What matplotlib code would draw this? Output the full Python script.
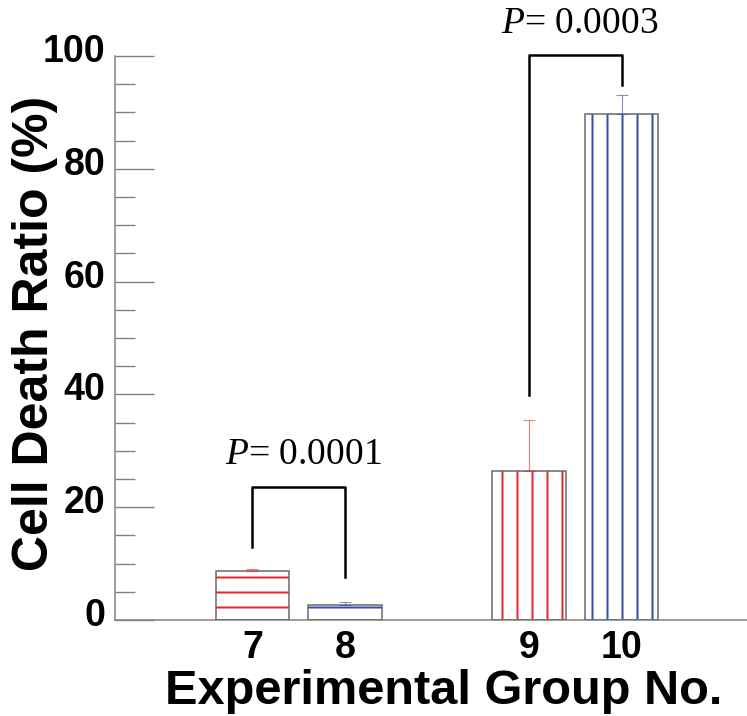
import matplotlib
matplotlib.use("Agg")
import matplotlib.pyplot as plt
import matplotlib.transforms as mtransforms
import numpy as np

# Data
groups = ['7', '8', '9', '10']
death_ratio = [8.6, 2.7, 26.4, 89.8]
err_upper = [0.5, 0.5, 9.1, 3.3]
p_labels = ['0.0001', '0.0003']
# bracket: (left bar, right bar), leg bottoms and top
bracket_pairs = [(0, 1), (2, 3)]
bracket_left_y = [13.0, 39.9]
bracket_right_y = [7.7, 94.9]
bracket_top_y = [23.6, 100.1]

red = '#e4262b'
blue = '#3a4ca6'
hatch_colors = [red, blue, red, blue]
hatches = ['-', '-', '|', '|']

plt.rcParams['hatch.linewidth'] = 1.6
plt.rcParams['mathtext.fontset'] = 'custom'
plt.rcParams['mathtext.it'] = 'Liberation Serif:italic'
plt.rcParams['mathtext.rm'] = 'Liberation Serif'

dpi = 90
fig = plt.figure(figsize=(747 / dpi, 716 / dpi), dpi=dpi)
ax = fig.add_axes([115 / 747, 1 - 620 / 716, 632 / 747, 564 / 716])

# groups 9 and 10 sit after an empty slot
idx = np.arange(len(groups))
x = idx + (idx >= 2)

# hatch fill first, then grey outline on top
ax.bar(x, death_ratio, width=0.8, color='white', edgecolor=hatch_colors,
       hatch=hatches, linewidth=0, zorder=2)
ax.bar(x, death_ratio, width=0.8, fill=False, edgecolor='#666666',
       linewidth=1.2, zorder=3)

for xi, v, e, c in zip(x, death_ratio, err_upper, hatch_colors):
    ax.errorbar(xi, v, yerr=[[0], [e]], fmt='none', ecolor=c, alpha=0.6,
                elinewidth=0.9, capsize=5, capthick=0.9, zorder=4)

# significance brackets
for (i, j), ly, ry, ty, p in zip(bracket_pairs, bracket_left_y, bracket_right_y,
                                  bracket_top_y, p_labels):
    ax.plot([x[i], x[i], x[j], x[j]], [ly, ty, ty, ry], color='black',
            linewidth=2, clip_on=False, zorder=5)
    ax.text((x[i] + x[j]) / 2 + 0.05, ty + 5.7, r'$P$= ' + p, ha='center',
            va='center', fontsize=30, family='Liberation Serif', clip_on=False)

ax.set_xlim(-1.49, 5.36)
ax.set_ylim(0, 100)
ax.set_yticks(np.arange(0, 101, 20))
ax.set_yticks(np.arange(0, 101, 5), minor=True)
ax.set_xticks(x)
ax.set_xticklabels(groups)

for s in ['top', 'right']:
    ax.spines[s].set_visible(False)
for s in ['left', 'bottom']:
    ax.spines[s].set_color('#808080')
    ax.spines[s].set_linewidth(1.2)

ax.tick_params(axis='y', which='major', direction='in', length=31, width=1.1,
               color='#808080', pad=8)
ax.tick_params(axis='y', which='minor', direction='in', length=16, width=1.1,
               color='#808080')
ax.tick_params(axis='x', length=0, pad=8)
for lab in ax.get_xticklabels() + ax.get_yticklabels():
    lab.set_fontfamily('Liberation Sans')
    lab.set_fontweight('bold')
    lab.set_fontsize(30)

# y tick labels sit a little above their ticks
shift = mtransforms.ScaledTranslation(0, 8 / dpi, fig.dpi_scale_trans)
for lab in ax.get_yticklabels():
    lab.set_transform(lab.get_transform() + shift)

ax.set_xlabel('Experimental Group No.', fontsize=39, fontweight='bold',
              family='Liberation Sans')
ax.set_ylabel('Cell Death Ratio (%)', fontsize=40, fontweight='bold',
              family='Liberation Sans')
ax.xaxis.set_label_coords(0.52, -0.086)
ax.yaxis.set_label_coords(-0.09, 0.509)

fig.savefig('out.png', dpi=dpi)
